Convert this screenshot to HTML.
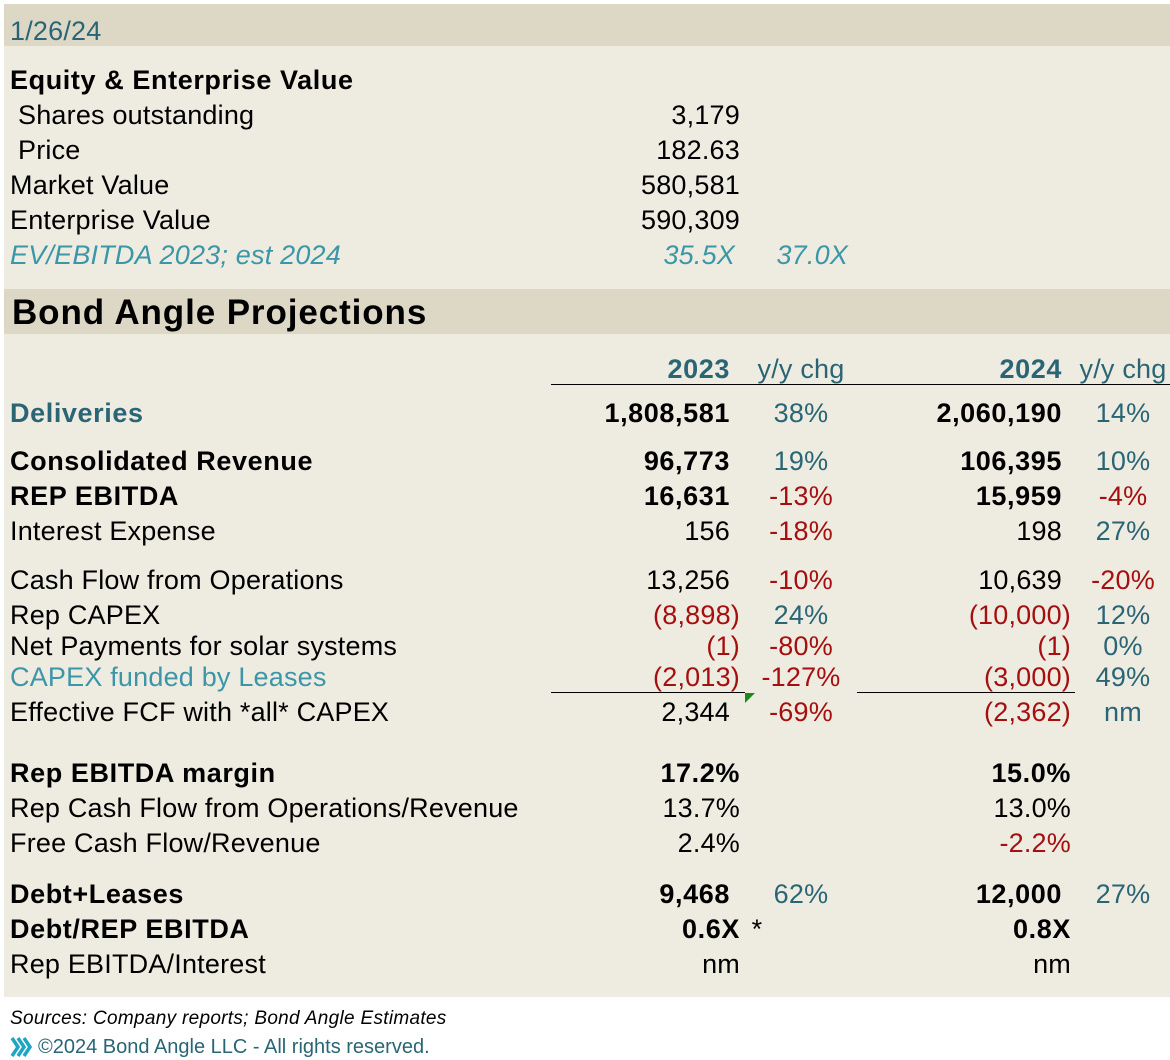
<!DOCTYPE html>
<html><head><meta charset="utf-8"><style>
body{margin:0;width:1170px;height:1060px;background:#fff;position:relative;overflow:hidden;font-family:"Liberation Sans",sans-serif;}
.t{position:absolute;font-size:27px;line-height:30px;white-space:nowrap;color:#000;letter-spacing:0.2px;}
.r{text-align:right;}
.c{text-align:center;}
.b{font-weight:bold;letter-spacing:0.6px;}
.teal{color:#2a6576;}
.red{color:#a50f0f;}
.lt{color:#3b97a8;}
.ln{position:absolute;height:1px;background:#000;}
</style></head><body>
<div style="position:absolute;left:4px;top:4px;width:1166px;height:993px;background:#eeebe0"></div>
<div style="position:absolute;left:4px;top:4px;width:1166px;height:42px;background:#ddd8c5"></div>
<div style="position:absolute;left:4px;top:289px;width:1166px;height:45px;background:#ddd8c5"></div>
<div id="root"></div>
<div class="ln" style="left:551px;top:384px;width:619px"></div>
<div class="ln" style="left:551px;top:692px;width:194px"></div>
<div class="ln" style="left:857px;top:692px;width:218px"></div>
<div style="position:absolute;left:745px;top:693px;width:0;height:0;border-top:10px solid #1a8a1a;border-right:10px solid transparent"></div>
<div class="t" style="left:10px;top:1008px;font-size:19px;line-height:22px;font-style:italic;letter-spacing:0.3px">Sources: Company reports; Bond Angle Estimates</div>
<svg style="position:absolute;left:10px;top:1036px" width="24" height="22" viewBox="0 0 24 22"><path d="M2 2l6 9-6 9M8 2l6 9-6 9M14 2l6 9-6 9" fill="none" stroke="#1fa5c4" stroke-width="3.5"/></svg>
<div class="t" style="left:38px;top:1036px;font-size:20px;line-height:22px;color:#2a6576;letter-spacing:0px">©2024 Bond Angle LLC - All rights reserved.</div>
<script>
const rows=[
['date',31,'1/26/24',10,'l','teal'],
['equity-title',80,'Equity & Enterprise Value',10,'l','b'],
['shares-label',115,' Shares outstanding',18,'l',''],['shares-value',115,'3,179',740,'r',''],
['price-label',150,'Price',18,'l',''],['price-value',150,'182.63',740,'r',''],
['market-value-label',185,'Market Value',10,'l',''],['market-value',185,'580,581',740,'r',''],
['ev-label',220,'Enterprise Value',10,'l',''],['ev-value',220,'590,309',740,'r',''],
['ev-ebitda-label',255,'EV/EBITDA 2023; est 2024',10,'l','lt i'],['ev-ebitda-2023',255,'35.5X',735,'r','lt i'],['ev-ebitda-2024',255,'37.0X',848,'r','lt i'],
['year-2023',369,'2023',730,'r','teal b'],['yy-header-1',369,'y/y chg',801,'c','teal'],
['year-2024',369,'2024',1062,'r','teal b'],['yy-header-2',369,'y/y chg',1123,'c','teal'],
['deliveries-label',413,'Deliveries',10,'l','teal b'],['deliveries-2023',413,'1,808,581',730,'r','b'],['deliveries-yy-2023',413,'38%',801,'c','teal'],['deliveries-2024',413,'2,060,190',1062,'r','b'],['deliveries-yy-2024',413,'14%',1123,'c','teal'],
['revenue-label',461,'Consolidated Revenue',10,'l','b'],['revenue-2023',461,'96,773',730,'r','b'],['revenue-yy-2023',461,'19%',801,'c','teal'],['revenue-2024',461,'106,395',1062,'r','b'],['revenue-yy-2024',461,'10%',1123,'c','teal'],
['ebitda-label',496,'REP EBITDA',10,'l','b'],['ebitda-2023',496,'16,631',730,'r','b'],['ebitda-yy-2023',496,'-13%',801,'c','red'],['ebitda-2024',496,'15,959',1062,'r','b'],['ebitda-yy-2024',496,'-4%',1123,'c','red'],
['interest-label',531,'Interest Expense',10,'l',''],['interest-2023',531,'156',730,'r',''],['interest-yy-2023',531,'-18%',801,'c','red'],['interest-2024',531,'198',1062,'r',''],['interest-yy-2024',531,'27%',1123,'c','teal'],
['cfo-label',580,'Cash Flow from Operations',10,'l',''],['cfo-2023',580,'13,256',730,'r',''],['cfo-yy-2023',580,'-10%',801,'c','red'],['cfo-2024',580,'10,639',1062,'r',''],['cfo-yy-2024',580,'-20%',1123,'c','red'],
['capex-label',615,'Rep CAPEX',10,'l',''],['capex-2023',615,'(8,898)',740,'r','red'],['capex-yy-2023',615,'24%',801,'c','teal'],['capex-2024',615,'(10,000)',1071,'r','red'],['capex-yy-2024',615,'12%',1123,'c','teal'],
['solar-label',646,'Net Payments for solar systems',10,'l',''],['solar-2023',646,'(1)',740,'r','red'],['solar-yy-2023',646,'-80%',801,'c','red'],['solar-2024',646,'(1)',1071,'r','red'],['solar-yy-2024',646,'0%',1123,'c','teal'],
['leases-label',677,'CAPEX funded by Leases',10,'l','lt'],['leases-2023',677,'(2,013)',740,'r','red'],['leases-yy-2023',677,'-127%',801,'c','red'],['leases-2024',677,'(3,000)',1071,'r','red'],['leases-yy-2024',677,'49%',1123,'c','teal'],
['fcf-label',712,'Effective FCF with *all* CAPEX',10,'l',''],['fcf-2023',712,'2,344',730,'r',''],['fcf-yy-2023',712,'-69%',801,'c','red'],['fcf-2024',712,'(2,362)',1071,'r','red'],['fcf-yy-2024',712,'nm',1123,'c','teal'],
['margin-label',773,'Rep EBITDA margin',10,'l','b'],['margin-2023',773,'17.2%',740,'r','b'],['margin-2024',773,'15.0%',1071,'r','b'],
['cfo-rev-label',808,'Rep Cash Flow from Operations/Revenue',10,'l',''],['cfo-rev-2023',808,'13.7%',740,'r',''],['cfo-rev-2024',808,'13.0%',1071,'r',''],
['fcf-rev-label',843,'Free Cash Flow/Revenue',10,'l',''],['fcf-rev-2023',843,'2.4%',740,'r',''],['fcf-rev-2024',843,'-2.2%',1071,'r','red'],
['debt-label',894,'Debt+Leases',10,'l','b'],['debt-2023',894,'9,468',730,'r','b'],['debt-yy-2023',894,'62%',801,'c','teal'],['debt-2024',894,'12,000',1062,'r','b'],['debt-yy-2024',894,'27%',1123,'c','teal'],
['debt-ebitda-label',929,'Debt/REP EBITDA',10,'l','b'],['debt-ebitda-2023',929,'0.6X',740,'r','b'],['debt-ebitda-note',929,'*',757,'c',''],['debt-ebitda-2024',929,'0.8X',1071,'r','b'],
['coverage-label',964,'Rep EBITDA/Interest',10,'l',''],['coverage-2023',964,'nm',740,'r',''],['coverage-2024',964,'nm',1071,'r','']
];
const root=document.getElementById('root');
rows.forEach(r=>{
  const d=document.createElement('div');
  d.className='t '+(r[4]==='r'?'r ':r[4]==='c'?'c ':'')+r[5].replace(' i','');
  if(r[5].includes(' i'))d.style.fontStyle='italic';
  d.textContent=r[2];
  d.style.top=(r[1]-15)+'px';
  if(r[4]==='l')d.style.left=r[3]+'px';
  else if(r[4]==='r'){d.style.left=(r[3]-300)+'px';d.style.width='300px';}
  else{d.style.left=(r[3]-60)+'px';d.style.width='120px';}
  
  
  root.appendChild(d);
});
const h=document.createElement('div');
h.className='t b';h.style.left='12px';h.style.top='293px';h.style.fontSize='35px';h.style.lineHeight='40px';h.style.letterSpacing='0.9px';
h.textContent='Bond Angle Projections';


root.appendChild(h);
</script>
</body></html>
